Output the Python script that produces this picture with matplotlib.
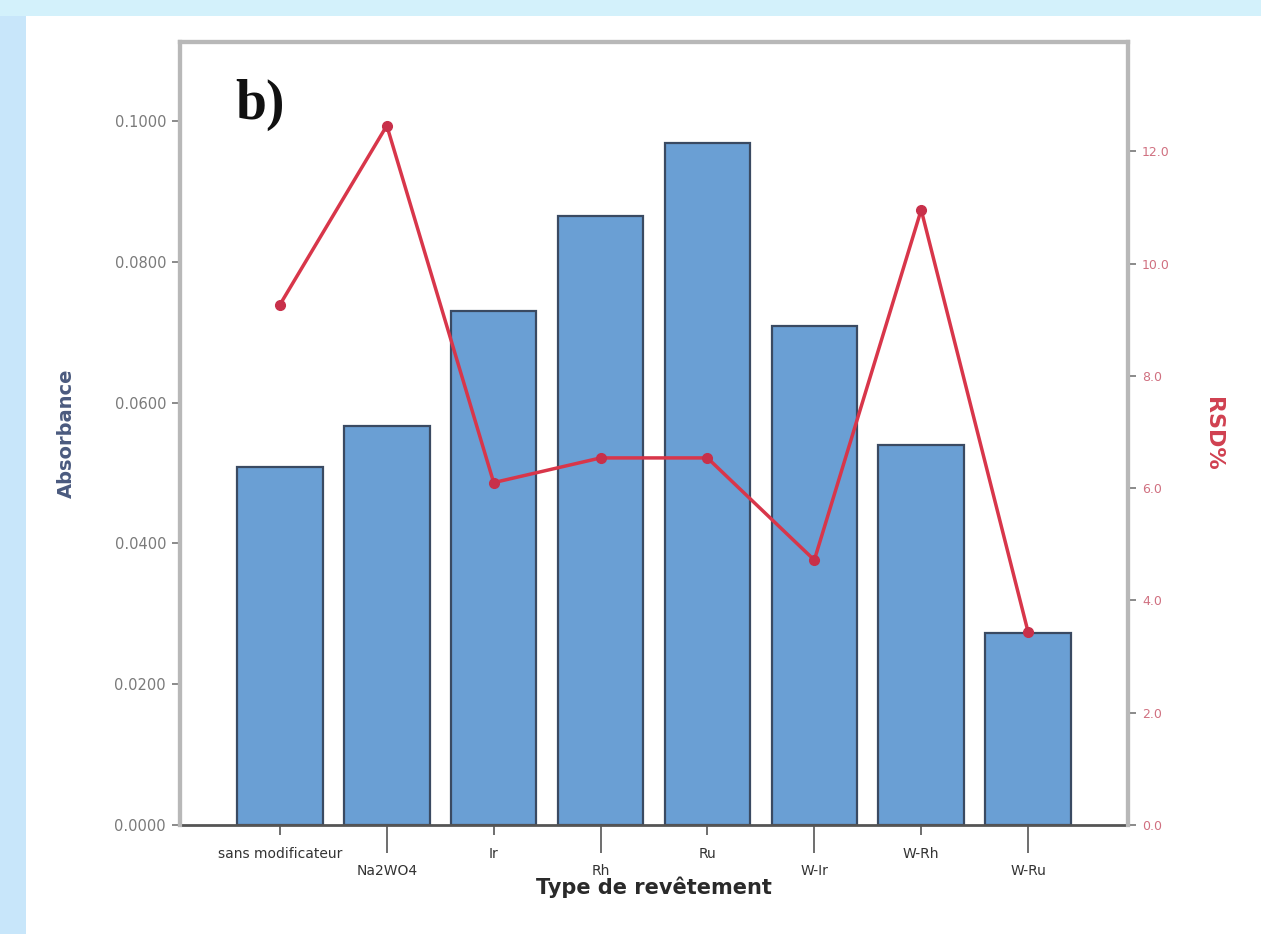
import matplotlib
matplotlib.use("Agg")
import matplotlib.pyplot as plt
from matplotlib.patches import Rectangle
from matplotlib.ticker import FormatStrFormatter

# Coating types and measured values
categories = ["sans modificateur", "Na2WO4", "Ir", "Rh", "Ru", "W-Ir", "W-Rh", "W-Ru"]
absorbance = [0.0509, 0.0567, 0.0730, 0.0865, 0.0969, 0.0709, 0.0540, 0.0273]
rsd_percent = [9.27, 12.46, 6.10, 6.54, 6.54, 4.72, 10.96, 3.44]

left_ticks = [0.0, 0.02, 0.04, 0.06, 0.08, 0.10]
right_ticks = [0.0, 2.0, 4.0, 6.0, 8.0, 10.0, 12.0]

fig = plt.figure(figsize=(12.61, 9.34), dpi=100)
fig.patch.set_facecolor("#d3f1fb")

# white panel behind the chart, with a pale blue strip on the left
fig.add_artist(Rectangle((26 / 1261, 0), 1 - 26 / 1261, 1 - 16 / 934,
                         transform=fig.transFigure, facecolor="white",
                         edgecolor="none", zorder=-10))
fig.add_artist(Rectangle((0, 0), 26 / 1261, 1 - 16 / 934,
                         transform=fig.transFigure, facecolor="#c8e6fa",
                         edgecolor="none", zorder=-10))

ax = fig.add_axes([180 / 1261, 1 - 825 / 934, (1128 - 180) / 1261, (825 - 42) / 934])
ax.set_facecolor("white")

x = list(range(len(categories)))
ax.bar(x, absorbance, width=0.8, color="#6a9fd4", edgecolor="#3a4a62",
       linewidth=1.6, zorder=2)
ax.set_xlim(-0.935, len(categories) - 1 + 0.935)
ax.set_ylim(0, 0.1112)
ax.set_yticks(left_ticks)
ax.yaxis.set_major_formatter(FormatStrFormatter("%.4f"))
ax.tick_params(axis="y", colors="#777777", labelcolor="#7a7a7a", labelsize=10.5,
               length=6, width=1.2, pad=4)
ax.set_ylabel("Absorbance", color="#4a5a7e", fontsize=14, fontweight="bold")
ax.yaxis.set_label_coords(-0.11, 0.5)

# staggered category labels: even positions on the first row, odd on the second
even = x[0::2]
odd = x[1::2]
ax.set_xticks(even, [categories[i] for i in even])
ax.set_xticks(odd, [categories[i] for i in odd], minor=True)
ax.tick_params(axis="x", which="major", length=7, width=1.2, colors="#555555",
               labelcolor="#333333", labelsize=10, pad=9)
ax.tick_params(axis="x", which="minor", length=20, width=1.2, colors="#555555",
               labelcolor="#333333", labelsize=10, pad=8)
ax.set_xlabel("Type de revêtement", fontsize=15, fontweight="bold",
              color="#2a2a2a")
ax.xaxis.set_label_coords(0.5, -0.066)

for side in ("left", "top", "right"):
    ax.spines[side].set_color("#b8b8b8")
    ax.spines[side].set_linewidth(3)
ax.spines["bottom"].set_color("#555555")
ax.spines["bottom"].set_linewidth(2)

ax2 = ax.twinx()
ax2.plot(x, rsd_percent, color="#d8364a", linewidth=2.5, marker="o",
         markersize=7, markerfacecolor="#c8304a", markeredgecolor="#c8304a", zorder=3)
ax2.set_ylim(0, 13.95)
ax2.set_yticks(right_ticks)
ax2.yaxis.set_major_formatter(FormatStrFormatter("%.1f"))
ax2.tick_params(axis="y", colors="#777777", labelcolor="#d07080", labelsize=9,
                length=6, width=1.2, pad=4)
ax2.set_ylabel("RSD%", color="#d04050", fontsize=16, fontweight="bold",
               rotation=270, va="center")
ax2.yaxis.set_label_coords(1.09, 0.5)
for side in ("left", "top", "right"):
    ax2.spines[side].set_color("#b8b8b8")
    ax2.spines[side].set_linewidth(3)
ax2.spines["bottom"].set_visible(False)

ax.text(0.058, 0.92, "b)", transform=ax.transAxes, fontsize=40,
        fontweight="bold", family="Liberation Serif", va="center", ha="left",
        color="#111111")

fig.savefig("out.png", dpi=100, facecolor=fig.get_facecolor())
